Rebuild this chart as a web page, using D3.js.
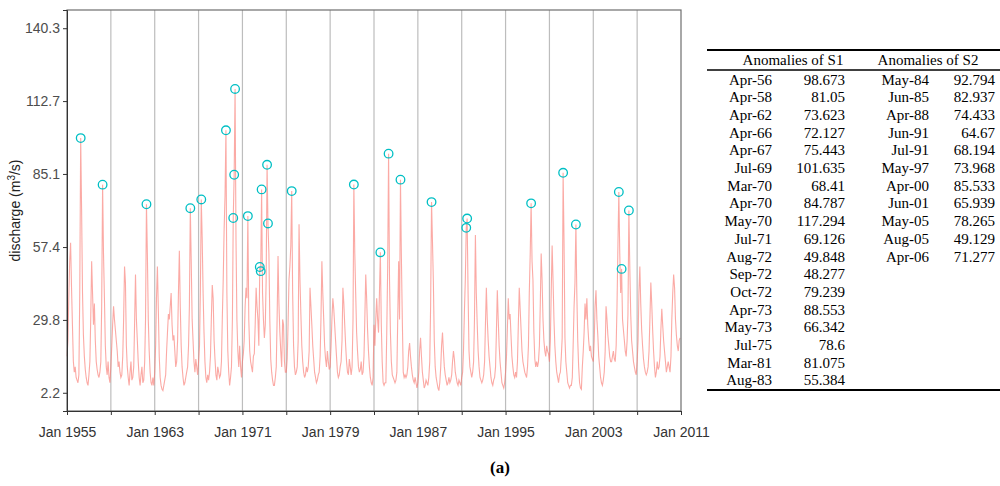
<!DOCTYPE html>
<meta charset="utf-8">
<title>discharge anomalies</title>
<body style="margin:0;background:#fff">
<style>
body { font-family: Arial, "Liberation Sans", sans-serif; }
.axis text { font-size: 14px; fill: #4d4d4d; font-family: Arial, "Liberation Sans", sans-serif; }
.axis line { stroke: #333; }
.axis path { stroke: #333; }
.tbl text { font-family: "Liberation Serif", "Times New Roman", serif; font-size: 15px; fill: #000; }
</style>
<svg id="chart" width="1000" height="486"></svg>
<script src="https://d3js.org/d3.v7.min.js"></script>
<script>
// monthly discharge, one row per year (Jan..Dec), 1955-2010
var years = d3.range(1955, 2011);
var discharge = [
  [16, 22, 38, 52, 59, 42, 28, 14, 10, 12, 8, 7],
  [6, 9, 40, 98.673, 72, 40, 24, 16, 11, 8, 6, 5],
  [9, 14, 30, 52, 40, 28, 36, 22, 14, 11, 9, 8],
  [10, 14, 35, 81.05, 55, 38, 20, 12, 9, 14, 8, 6],
  [12, 20, 28, 35, 30, 26, 22, 18, 12, 14, 10, 8],
  [9, 16, 30, 50, 44, 20, 12, 8, 5, 10, 14, 7],
  [8, 12, 28, 47, 30, 22, 14, 8, 5, 9, 12, 6],
  [7, 14, 30, 73.623, 55, 30, 18, 10, 6, 5, 8, 5],
  [10, 20, 38, 50, 34, 16, 8, 5, 3.5, 3, 5, 7],
  [9, 18, 25, 32, 30, 35, 40, 28, 22, 24, 18, 12],
  [14, 22, 40, 56, 35, 20, 12, 8, 5, 6, 8, 10],
  [12, 20, 35, 72.127, 52, 30, 22, 14, 10, 15, 12, 9],
  [14, 20, 40, 75.443, 61, 40, 25, 14, 8, 6, 9, 7],
  [10, 16, 30, 43, 38, 22, 15, 9, 7, 12, 10, 8],
  [9, 14, 30, 45, 64, 77, 101.635, 40, 18, 10, 5, 8],
  [12, 30, 68.41, 84.787, 117.294, 60, 30, 18, 12, 20, 12, 8],
  [14, 17, 22, 35, 42, 38, 69.126, 30, 18, 14, 12, 10],
  [16, 17, 28, 42, 35, 30, 20, 49.848, 48.277, 79.239, 40, 30],
  [23, 28, 45, 88.553, 66.342, 55, 30, 15, 10, 7, 5, 5],
  [8, 12, 30, 54, 36, 25, 18, 12, 30, 28, 14, 10],
  [10, 15, 28, 45, 50, 58, 78.6, 40, 20, 12, 9, 10],
  [12, 22, 66, 45, 32, 20, 14, 10, 8, 9, 12, 10],
  [12, 18, 42, 35, 28, 20, 15, 10, 8, 6, 7, 9],
  [10, 16, 30, 52, 40, 30, 20, 15, 12, 18, 14, 11],
  [12, 20, 30, 38, 34, 28, 22, 16, 10, 8, 9, 12],
  [14, 22, 42, 36, 28, 20, 14, 10, 9, 15, 12, 9],
  [12, 30, 81.075, 55, 40, 25, 18, 12, 10, 11, 14, 9],
  [10, 16, 30, 47, 38, 26, 18, 12, 8, 6, 5, 8],
  [28, 20, 30, 38, 30, 25, 40, 55.384, 28, 14, 6, 5],
  [6, 6, 25, 50, 92.794, 45, 25, 14, 9, 8, 7, 6],
  [7, 10, 30, 52, 30, 82.937, 54, 30, 10, 8, 9, 8],
  [9, 12, 18, 21, 16, 12, 9, 7, 6, 8, 6, 4],
  [6, 10, 18, 23, 16, 10, 7, 4, 5, 7, 6, 5],
  [8, 14, 35, 74.433, 60, 44, 22, 12, 8, 6, 4, 3],
  [6, 12, 20, 25, 18, 12, 9, 7, 5, 6, 8, 6],
  [7, 9, 14, 18, 15, 10, 8, 6, 5, 7, 6, 5],
  [8, 10, 18, 33, 45, 64.67, 68.194, 40, 18, 12, 10, 8],
  [10, 14, 30, 62, 40, 28, 18, 12, 8, 7, 6, 7],
  [9, 14, 28, 42, 30, 22, 16, 12, 8, 6, 5, 7],
  [8, 12, 25, 41, 30, 20, 14, 10, 6, 5, 4, 6],
  [10, 16, 26, 38, 30, 32, 24, 16, 12, 9, 8, 10],
  [8, 14, 28, 42, 34, 26, 18, 14, 12, 10, 9, 8],
  [12, 20, 40, 55, 73.968, 52, 45, 25, 15, 12, 14, 12],
  [14, 20, 35, 55, 45, 30, 22, 18, 16, 20, 18, 17],
  [14, 22, 40, 58, 45, 30, 20, 14, 10, 8, 6, 9],
  [10, 16, 23, 85.533, 60, 23, 14, 10, 6, 5, 4, 5],
  [5, 8, 20, 35, 44, 65.939, 40, 22, 12, 6, 4, 3.5],
  [12, 18, 25, 36, 30, 38, 28, 22, 18, 20, 16, 15],
  [14, 22, 35, 41, 30, 24, 16, 12, 8, 6, 5, 7],
  [10, 18, 35, 30, 24, 20, 16, 14, 14, 16, 18, 15],
  [14, 20, 35, 58, 78.265, 55, 40, 49.129, 30, 26, 22, 18],
  [16, 22, 32, 71.277, 50, 32, 22, 18, 14, 12, 10, 9],
  [14, 22, 40, 50, 36, 26, 20, 15, 12, 10, 9, 10],
  [12, 18, 30, 44, 36, 26, 18, 12, 8, 10, 14, 11],
  [12, 16, 26, 34, 28, 22, 18, 14, 10, 12, 14, 12],
  [10, 16, 30, 40, 47, 42, 30, 24, 20, 18, 22, 23]
];

var s1Labels = ["Apr-56","Apr-58","Apr-62","Apr-66","Apr-67","Jul-69","Mar-70","Apr-70","May-70",
                "Jul-71","Aug-72","Sep-72","Oct-72","Apr-73","May-73","Jul-75","Mar-81","Aug-83"];
var s1Values = [98.673, 81.05, 73.623, 72.127, 75.443, 101.635, 68.41, 84.787, 117.294,
                69.126, 49.848, 48.277, 79.239, 88.553, 66.342, 78.6, 81.075, 55.384];
var s2Labels = ["May-84","Jun-85","Apr-88","Jun-91","Jul-91","May-97","Apr-00","Jun-01","May-05","Aug-05","Apr-06"];
var s2Values = [92.794, 82.937, 74.433, 64.67, 68.194, 73.968, 85.533, 65.939, 78.265, 49.129, 71.277];

var yTicks = [2.2, 29.8, 57.4, 85.1, 112.7, 140.3];

var months = ["Jan","Feb","Mar","Apr","May","Jun","Jul","Aug","Sep","Oct","Nov","Dec"];
function parseLabel(s) {
  var p = s.split("-"), yy = +p[1];
  return new Date(yy < 20 ? 2000 + yy : 1900 + yy, months.indexOf(p[0]), 1);
}

var series = [];
discharge.forEach(function(row, i) {
  row.forEach(function(v, m) { series.push({date: new Date(years[i], m, 1), value: v}); });
});
var anomalies = s1Labels.map(function(l, i) { return {date: parseLabel(l), value: s1Values[i]}; })
  .concat(s2Labels.map(function(l, i) { return {date: parseLabel(l), value: s2Values[i]}; }));

var pLeft = 67, pRight = 681, pTop = 10, pBottom = 411;
var svg = d3.select("#chart");

var x = d3.scaleTime()
  .domain([new Date(1955, 0, 1), new Date(2011, 0, 1)])
  .range([pLeft, pRight]);
var pad = (140.3 - 2.2) * 0.05;
var y = d3.scaleLinear()
  .domain([2.2 - pad, 140.3 + pad])
  .range([pBottom, pTop]);

// vertical grid every 4 years
var gridYears = d3.range(1959, 2011, 4).map(function(yr) { return new Date(yr, 0, 1); });
svg.append("g").selectAll("line")
  .data(gridYears)
  .enter().append("line")
    .attr("x1", function(d) { return x(d); })
    .attr("x2", function(d) { return x(d); })
    .attr("y1", pTop).attr("y2", pBottom)
    .attr("stroke", "#bdbdbd")
    .attr("stroke-width", 1.2);

svg.append("path")
  .datum(series)
  .attr("fill", "none")
  .attr("stroke", "#F8766D")
  .attr("stroke-opacity", 0.62)
  .attr("stroke-width", 1.1)
  .attr("d", d3.line().x(function(d) { return x(d.date); }).y(function(d) { return y(d.value); }));

svg.append("g").selectAll("circle")
  .data(anomalies)
  .enter().append("circle")
    .attr("cx", function(d) { return x(d.date); })
    .attr("cy", function(d) { return y(d.value); })
    .attr("r", 4.3)
    .attr("fill", "none")
    .attr("stroke", "#00BFC4")
    .attr("stroke-width", 1.3);

// panel border
svg.append("rect")
  .attr("x", pLeft).attr("y", pTop)
  .attr("width", pRight - pLeft).attr("height", pBottom - pTop)
  .attr("fill", "none")
  .attr("stroke", "#6e6e6e")
  .attr("stroke-width", 1.2);

var fmtTick = d3.timeFormat("%b %Y");
var xAxis = d3.axisBottom(x)
  .tickValues(d3.range(1955, 2012, 4).map(function(yr) { return new Date(yr, 0, 1); }))
  .tickSize(4)
  .tickFormat(function(d) { return (d.getFullYear() - 1955) % 8 === 0 ? fmtTick(d) : ""; });
svg.append("g")
  .attr("class", "axis")
  .attr("transform", "translate(0," + pBottom + ")")
  .call(xAxis)
  .call(function(g) { g.selectAll("text").attr("dy", "1.35em").style("fill", "#333"); });

var yAxis = d3.axisLeft(y).tickValues(yTicks).tickSize(4).tickFormat(d3.format(".1f"));
svg.append("g")
  .attr("class", "axis")
  .attr("transform", "translate(" + pLeft + ",0)")
  .call(yAxis)
  .call(function(g) { g.select(".domain").attr("stroke", "#6e6e6e"); });

var yTitle = svg.append("text")
  .attr("transform", "translate(20," + ((pTop + pBottom) / 2) + ") rotate(-90)")
  .attr("text-anchor", "middle")
  .style("font-size", "14px")
  .style("fill", "#222")
  .text("discharge (m");
yTitle.append("tspan").attr("baseline-shift", "super").style("font-size", "10px").text("3");
yTitle.append("tspan").text("/s)");

// anomalies table
var tbl = svg.append("g").attr("class", "tbl");
var rowY = d3.scaleLinear().domain([0, 1]).range([84.5, 84.5 + 17.7]);
tbl.append("line").attr("x1", 707).attr("x2", 1000).attr("y1", 50).attr("y2", 50)
  .attr("stroke", "#000").attr("stroke-width", 1.8);
tbl.append("line").attr("x1", 707).attr("x2", 1000).attr("y1", 70).attr("y2", 70)
  .attr("stroke", "#000").attr("stroke-width", 1.3);
tbl.append("line").attr("x1", 707).attr("x2", 1000).attr("y1", 390).attr("y2", 390)
  .attr("stroke", "#000").attr("stroke-width", 1.8);
tbl.append("text").attr("x", 793).attr("y", 65).attr("text-anchor", "middle").text("Anomalies of S1");
tbl.append("text").attr("x", 928).attr("y", 65).attr("text-anchor", "middle").text("Anomalies of S2");

function column(labels, values, xl, xv) {
  tbl.append("g").selectAll("text").data(labels).enter().append("text")
    .attr("x", xl).attr("y", function(d, i) { return rowY(i); })
    .attr("text-anchor", "end").text(function(d) { return d; });
  tbl.append("g").selectAll("text").data(values).enter().append("text")
    .attr("x", xv).attr("y", function(d, i) { return rowY(i); })
    .attr("text-anchor", "end").text(function(d) { return String(d); });
}
column(s1Labels, s1Values, 772, 845);
column(s2Labels, s2Values, 929, 995);

svg.append("text")
  .attr("x", 500).attr("y", 473)
  .attr("text-anchor", "middle")
  .style("font-family", "'Liberation Serif', serif")
  .style("font-weight", "bold")
  .style("font-size", "17px")
  .text("(a)");
</script>
</body>
